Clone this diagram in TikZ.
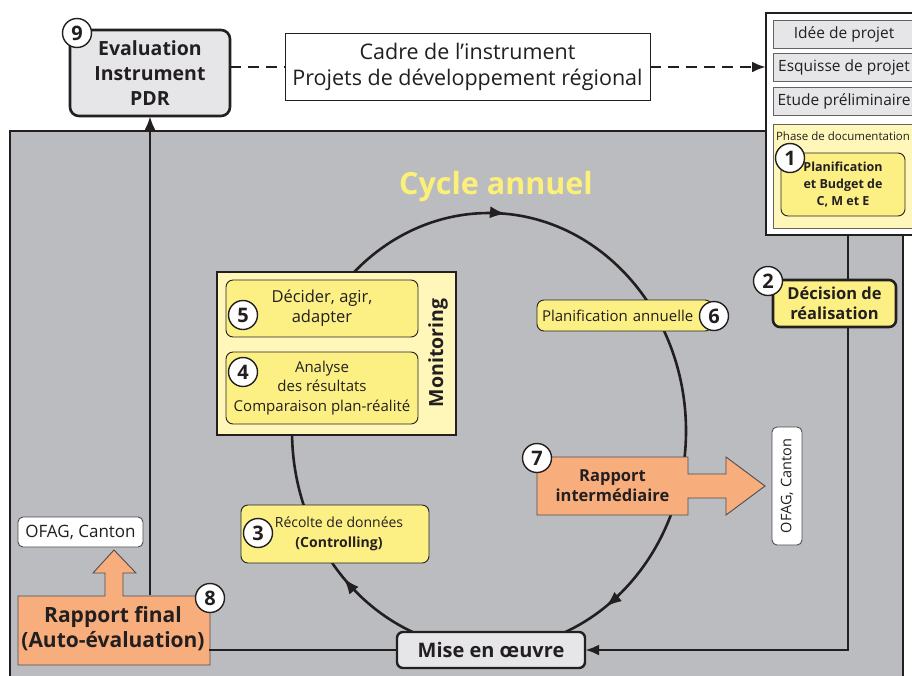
\documentclass[tikz,border=0pt]{standalone}
\usepackage{fontspec}
\setmainfont{Open Sans}
\usetikzlibrary{arrows.meta,decorations.markings}
\definecolor{bg}{RGB}{187,188,192}
\definecolor{yel}{RGB}{252,240,133}
\definecolor{lyel}{RGB}{255,247,185}
\definecolor{ora}{RGB}{247,174,124}
\definecolor{lgr}{RGB}{230,230,232}
\definecolor{dk}{RGB}{35,31,32}
\definecolor{ttl}{RGB}{253,240,120}
\newcommand\myfs[2]{\fontsize{#1}{#2}\selectfont}
\begin{document}
\begin{tikzpicture}[x=1pt,y=-1pt,
  every node/.style={inner sep=0pt, outer sep=0pt, text=dk},
  conn/.style={draw=dk, line width=2.8pt},
  dashline/.style={dash pattern=on 11pt off 7pt},
  arr/.style={-{Latex[length=14pt,width=11pt]}},
  cyctip/.tip={Latex[length=16pt,width=12pt]},
  num/.style={circle, draw=dk, line width=1.4pt, fill=white, minimum size=29pt, font=\myfs{20}{20}\bfseries},
  ybox/.style={draw=dk, line width=0.9pt, fill=yel, rounded corners=7pt, align=center},
  gbox/.style={draw=dk!70, line width=0.9pt, fill=lgr, minimum width=142pt, minimum height=28pt, font=\myfs{15.5}{18}},
  orashape/.style={draw=dk!80, line width=0.9pt, fill=ora}]
\useasboundingbox (0,0) rectangle (912,675);
\begin{scope}
\clip (0,0) rectangle (912,675);
% background
\fill[bg] (10,131) rectangle (903,690);
\draw[dk, line width=1.2pt] (10,690) -- (10,131) -- (903,131) -- (903,690);
% title
\node[font=\myfs{30.5}{34}\bfseries, text=ttl] (title) at (496,187) {Cycle annuel};
% cycle
\draw[dk, line width=2.6pt, postaction={decorate},
  decoration={markings,
    mark=at position 0.153 with {\arrow{cyctip}},
    mark=at position 0.378 with {\arrow{cyctip}},
    mark=at position 0.763 with {\arrow{cyctip}}}]
  (489,431) ellipse [x radius=197, y radius=218];
% top left
\node[draw=dk, line width=2.6pt, fill=lgr, rounded corners=9pt, minimum width=160pt, minimum height=86pt,
  align=center, font=\myfs{19.5}{25}\bfseries] (box9) at (150,73) {Evaluation\\Instrument\\PDR};
\node[num] (n9) at (77,33) {9};
\node[draw=dk, line width=0.9pt, fill=white, minimum width=365pt, minimum height=67pt,
  align=center, font=\myfs{21.5}{26}] (cadre) at (467.5,67) {Cadre de l’instrument\\Projets de développement régional};
% right panel
\node[draw=dk, line width=1.2pt, fill=white, minimum width=164pt, minimum height=222pt] (panel) at (848,124) {};
\node[gbox] (idee) at (844,34) {Idée de projet};
\node[gbox] (esq) at (844,67) {Esquisse de projet};
\node[gbox] (etude) at (844,101) {Etude préliminaire};
\node[draw=dk!70, line width=0.9pt, fill=lyel, minimum width=142pt, minimum height=104pt] (phase) at (844,176) {};
\node[font=\myfs{11.5}{14}] (phaset) at (843,136) {Phase de documentation};
\node[ybox, minimum width=124pt, minimum height=63pt, font=\myfs{12.5}{17}\bfseries] (b1) at (843,184.5) {Planification\\et Budget de\\C, M et E};
\node[num] (n1) at (790,158) {1};
% decision
\node[ybox, line width=2.6pt, minimum width=123pt, minimum height=47pt, font=\myfs{16.5}{20}\bfseries] (dec) at (834.5,303.5) {Décision de\\réalisation};
\node[num] (n2) at (768,281) {2};
% monitoring
\node[draw=dk, line width=2.6pt, fill=lyel, minimum width=239pt, minimum height=163pt] (mon) at (336.5,353.5) {};
\node[rotate=90, font=\myfs{19.5}{20}\bfseries] (mont) at (438,353) {Monitoring};
\node[ybox, minimum width=192pt, minimum height=57pt, font=\myfs{16.5}{20}] (b5) at (322,308.5) {Décider, agir,\\adapter};
\node[num] (n5) at (243,315) {5};
\node[ybox, minimum width=192pt, minimum height=72pt, font=\myfs{15}{19.5}] (b4) at (322,388) {Analyse\\des résultats\\Comparaison plan-réalité};
\node[num] (n4) at (243,372) {4};
% planification annuelle
\node[ybox, minimum width=175pt, minimum height=31pt, text width=165pt, align=left, font=\myfs{15}{18}] (plan) at (624.5,315.5) {Planification annuelle};
\node[num] (n6) at (714,316) {6};
% rapport intermediaire
\draw[orashape] (537,457) -- (688,457) -- (688,474) -- (726,474) -- (726,457) -- (765,486) -- (726,515)
  -- (726,498) -- (688,498) -- (688,515) -- (537,515) -- cycle;
\node[font=\myfs{16.5}{20}\bfseries, align=center, minimum width=151pt, minimum height=58pt] (rint) at (612.5,486) {Rapport\\intermédiaire};
\node[num] (n7) at (537,458) {7};
\node[draw=dk!80, line width=0.9pt, fill=white, rounded corners=5pt, rotate=90, minimum width=118pt, minimum height=30pt,
  font=\myfs{14.5}{16}] (ofag2) at (787,486) {OFAG, Canton};
% recolte
\node[ybox, minimum width=188pt, minimum height=58pt, font=\myfs{14}{20}] (rec) at (335,534) {\hspace*{8pt}Récolte de données\\\hspace*{8pt}\textbf{(Controlling)}};
\node[num] (n3) at (258,533) {3};
% OFAG left
\node[draw=dk!80, line width=0.9pt, fill=white, rounded corners=5pt, minimum width=125pt, minimum height=30pt,
  font=\myfs{17}{18}] (ofag1) at (80.5,532) {OFAG, Canton};
% rapport final
\draw[orashape] (18,596) -- (105,596) -- (105,573) -- (93,573) -- (114,550) -- (136,573) -- (123,573) -- (123,596)
  -- (210,596) -- (210,665) -- (18,665) -- cycle;
\node[font=\myfs{21}{25}\bfseries, align=center, minimum width=192pt, minimum height=69pt] (rfin) at (113,629) {Rapport final\\(Auto-évaluation)};
\node[num] (n8) at (210,598) {8};
% mise en oeuvre
\node[draw=dk, line width=2.4pt, fill=lgr, rounded corners=6pt, minimum width=188pt, minimum height=36pt,
  font=\myfs{20}{22}\bfseries] (mise) at (491,650) {Mise en œuvre};
% connectors
\draw[conn, dashline] (box9.east |- cadre.west) -- (cadre.west);
\draw[conn, dashline, arr] (cadre.east) -- (cadre.east -| panel.west);
\draw[conn] (panel.south) -- (panel.south |- dec.north);
\draw[conn, arr] (panel.south |- dec.south) -- (panel.south |- mise.east) -- (mise.east);
\draw[conn] (rfin.east |- mise.west) -- (mise.west);
\draw[conn, arr] (box9.south |- rfin.north) -- (box9.south);
\end{scope}
\end{tikzpicture}
\end{document}
